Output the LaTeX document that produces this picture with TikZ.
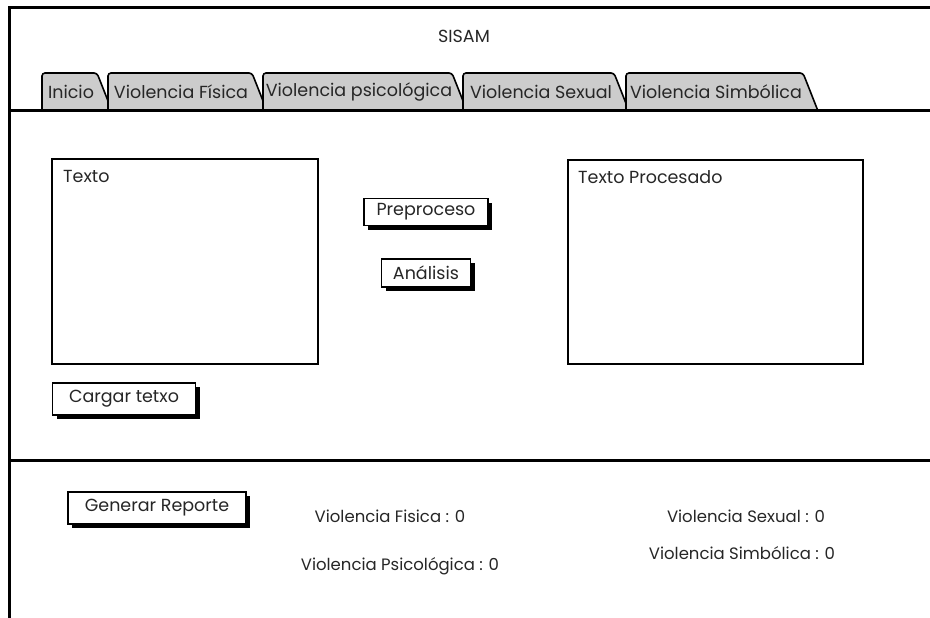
\documentclass[tikz,border=0pt]{standalone}
\usepackage{fontspec}
\setmainfont{Poppins}
\usetikzlibrary{shadows}

\begin{document}
\begin{tikzpicture}[x=1pt, y=-1pt,
    frame/.style={line width=3pt},
    tab/.style={draw, line width=1.6pt, fill=black!20, rounded corners=3pt},
    panel/.style={draw, line width=2.4pt, anchor=north west, inner sep=0pt},
    btn/.style={draw, line width=1.8pt, fill=white, inner sep=0pt,
        drop shadow={shadow xshift=4pt, shadow yshift=-4pt, fill=black, opacity=1}},
    txt/.style={font=\fontsize{17.5}{20}\selectfont, text=black!85, inner sep=0pt},
    cnt/.style={txt, font=\fontsize{16.5}{19}\selectfont}]

    \useasboundingbox (0,0) rectangle (930,618);

    % Window frame
    \draw[frame] (930,8) -- (9,8) -- (9,618);
    \node[txt] (titulo) at (464,36) {SISAM};

    % Tabs
    \draw[tab] (42,111) -- (42,73) -- (97,73) -- (112,111);
    \draw[tab] (108,111) -- (108,73) -- (252,73) -- (267,111);
    \draw[tab] (263,111) -- (263,73) -- (452,73) -- (467,111);
    \draw[tab] (463,111) -- (463,73) -- (614,73) -- (629,111);
    \draw[tab] (626,111) -- (626,73) -- (803,73) -- (818,111);
    \node[txt] (tabinicio) at (71,92) {Inicio};
    \node[txt] (tabfisica) at (181,92) {Violencia Física};
    \node[txt] (tabpsico) at (359,92) {Violencia psicológica};
    \node[txt] (tabsexual) at (541,92) {Violencia Sexual};
    \node[txt] (tabsimbolica) at (716,92) {Violencia Simbólica};

    % Separators
    \draw[frame] (9,111) -- (930,111);
    \draw[frame] (9,460) -- (930,460);

    % Text areas
    \node[panel, minimum width=266pt, minimum height=205pt] (entrada) at (51,158) {};
    \node[txt, anchor=north west] (lblentrada) at ([xshift=12pt, yshift=-12pt]entrada.north west) {Texto};
    \node[panel, minimum width=295pt, minimum height=204pt] (salida) at (567,159) {};
    \node[txt, anchor=north west] (lblsalida) at ([xshift=11pt, yshift=-11pt]salida.north west) {Texto Procesado};

    % Buttons
    \node[btn, txt, draw, minimum width=124pt, minimum height=27pt] (preproceso) at (426,212) {Preproceso};
    \node[btn, txt, draw, minimum width=89pt, minimum height=28pt] (analisis) at (426,273) {Análisis};
    \node[btn, txt, draw, minimum width=143pt, minimum height=32pt] (cargar) at (124,399) {Cargar tetxo};
    \node[btn, txt, draw, minimum width=178pt, minimum height=32pt] (reporte) at (157,508) {Generar Reporte};

    % Counters
    \node[cnt] (cfisica) at (390,516) {Violencia Fisica : 0};
    \node[cnt] (cpsico) at (400,566) {Violencia Psicológica : 0};
    \node[cnt] (csexual) at (746,516) {Violencia Sexual : 0};
    \node[cnt] (csimbolica) at (742,553) {Violencia Simbólica : 0};
\end{tikzpicture}
\end{document}
